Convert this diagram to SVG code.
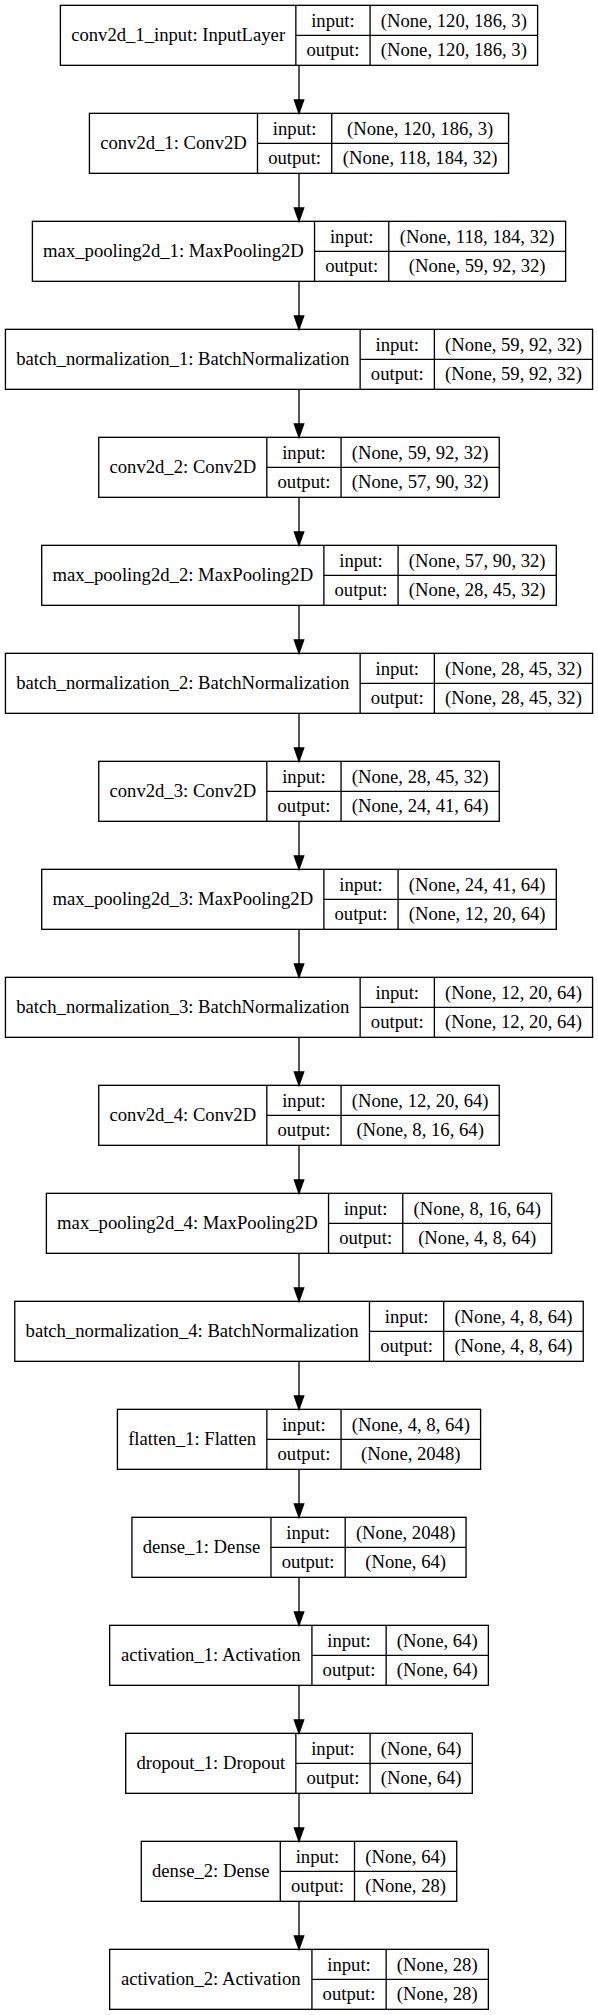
<svg xmlns="http://www.w3.org/2000/svg" width="598" height="2015" viewBox="0 0 598 2015">
<style>
  .bg { fill: #ffffff; }
  .n rect { fill: none; stroke: #000; stroke-width: 1.33; }
  .n line { stroke: #000; stroke-width: 1.33; }
  .n text { font-family: "Liberation Serif", "Times New Roman", serif; font-size: 18.67px; text-anchor: middle; fill: #000; }
  .e line { stroke: #000; stroke-width: 1.33; }
</style>
<defs>
  <marker id="ah" viewBox="0 0 13.33 9.33" refX="0" refY="4.665" markerWidth="13.33" markerHeight="9.33" markerUnits="userSpaceOnUse" orient="auto" overflow="visible">
    <path d="M0,0 L13.33,4.665 L0,9.33 Z" fill="#000" stroke="#000" stroke-width="1.33"/>
  </marker>
</defs>
<rect class="bg" x="0" y="0" width="598" height="2015"/>

<g id="edges" class="e">
  <line x1="299" y1="65.33" x2="299" y2="100" marker-end="url(#ah)"/>
  <line x1="299" y1="173.33" x2="299" y2="208" marker-end="url(#ah)"/>
  <line x1="299" y1="281.33" x2="299" y2="316" marker-end="url(#ah)"/>
  <line x1="299" y1="389.33" x2="299" y2="424" marker-end="url(#ah)"/>
  <line x1="299" y1="497.33" x2="299" y2="532" marker-end="url(#ah)"/>
  <line x1="299" y1="605.33" x2="299" y2="640" marker-end="url(#ah)"/>
  <line x1="299" y1="713.33" x2="299" y2="748" marker-end="url(#ah)"/>
  <line x1="299" y1="821.33" x2="299" y2="856" marker-end="url(#ah)"/>
  <line x1="299" y1="929.33" x2="299" y2="964" marker-end="url(#ah)"/>
  <line x1="299" y1="1037.33" x2="299" y2="1072" marker-end="url(#ah)"/>
  <line x1="299" y1="1145.33" x2="299" y2="1180" marker-end="url(#ah)"/>
  <line x1="299" y1="1253.33" x2="299" y2="1288" marker-end="url(#ah)"/>
  <line x1="299" y1="1361.33" x2="299" y2="1396" marker-end="url(#ah)"/>
  <line x1="299" y1="1469.33" x2="299" y2="1504" marker-end="url(#ah)"/>
  <line x1="299" y1="1577.33" x2="299" y2="1612" marker-end="url(#ah)"/>
  <line x1="299" y1="1685.33" x2="299" y2="1720" marker-end="url(#ah)"/>
  <line x1="299" y1="1793.33" x2="299" y2="1828" marker-end="url(#ah)"/>
  <line x1="299" y1="1901.33" x2="299" y2="1936" marker-end="url(#ah)"/>
</g>

<g id="conv2d_1_input" class="n" transform="translate(0,5.33)">
  <rect x="60.39" y="0" width="477.22" height="60"/>
  <line x1="295.85" y1="0" x2="295.85" y2="60"/><line x1="370.08" y1="0" x2="370.08" y2="60"/><line x1="295.85" y1="30" x2="537.61" y2="30"/>
  <text x="178.12" y="35.5">conv2d_1_input: InputLayer</text>
  <text x="332.97" y="21.5">input:</text><text x="332.97" y="50.5">output:</text>
  <text x="453.85" y="21.5">(None, 120, 186, 3)</text><text x="453.85" y="50.5">(None, 120, 186, 3)</text>
</g>

<g id="conv2d_1" class="n" transform="translate(0,113.33)">
  <rect x="89.42" y="0" width="419.16" height="60"/>
  <line x1="257.49" y1="0" x2="257.49" y2="60"/><line x1="331.72" y1="0" x2="331.72" y2="60"/><line x1="257.49" y1="30" x2="508.58" y2="30"/>
  <text x="173.46" y="35.5">conv2d_1: Conv2D</text>
  <text x="294.61" y="21.5">input:</text><text x="294.61" y="50.5">output:</text>
  <text x="420.15" y="21.5">(None, 120, 186, 3)</text><text x="420.15" y="50.5">(None, 118, 184, 32)</text>
</g>

<g id="max_pooling2d_1" class="n" transform="translate(0,221.33)">
  <rect x="32.38" y="0" width="533.25" height="60"/>
  <line x1="314.54" y1="0" x2="314.54" y2="60"/><line x1="388.77" y1="0" x2="388.77" y2="60"/><line x1="314.54" y1="30" x2="565.63" y2="30"/>
  <text x="173.46" y="35.5">max_pooling2d_1: MaxPooling2D</text>
  <text x="351.65" y="21.5">input:</text><text x="351.65" y="50.5">output:</text>
  <text x="477.2" y="21.5">(None, 118, 184, 32)</text><text x="477.2" y="50.5">(None, 59, 92, 32)</text>
</g>

<g id="batch_normalization_1" class="n" transform="translate(0,329.33)">
  <rect x="5.44" y="0" width="587.13" height="60"/>
  <line x1="360.14" y1="0" x2="360.14" y2="60"/><line x1="434.37" y1="0" x2="434.37" y2="60"/><line x1="360.14" y1="30" x2="592.57" y2="30"/>
  <text x="182.79" y="35.5">batch_normalization_1: BatchNormalization</text>
  <text x="397.25" y="21.5">input:</text><text x="397.25" y="50.5">output:</text>
  <text x="513.47" y="21.5">(None, 59, 92, 32)</text><text x="513.47" y="50.5">(None, 59, 92, 32)</text>
</g>

<g id="conv2d_2" class="n" transform="translate(0,437.33)">
  <rect x="98.75" y="0" width="400.5" height="60"/>
  <line x1="266.82" y1="0" x2="266.82" y2="60"/><line x1="341.05" y1="0" x2="341.05" y2="60"/><line x1="266.82" y1="30" x2="499.25" y2="30"/>
  <text x="182.79" y="35.5">conv2d_2: Conv2D</text>
  <text x="303.94" y="21.5">input:</text><text x="303.94" y="50.5">output:</text>
  <text x="420.15" y="21.5">(None, 59, 92, 32)</text><text x="420.15" y="50.5">(None, 57, 90, 32)</text>
</g>

<g id="max_pooling2d_2" class="n" transform="translate(0,545.33)">
  <rect x="41.71" y="0" width="514.59" height="60"/>
  <line x1="323.87" y1="0" x2="323.87" y2="60"/><line x1="398.1" y1="0" x2="398.1" y2="60"/><line x1="323.87" y1="30" x2="556.3" y2="30"/>
  <text x="182.79" y="35.5">max_pooling2d_2: MaxPooling2D</text>
  <text x="360.98" y="21.5">input:</text><text x="360.98" y="50.5">output:</text>
  <text x="477.2" y="21.5">(None, 57, 90, 32)</text><text x="477.2" y="50.5">(None, 28, 45, 32)</text>
</g>

<g id="batch_normalization_2" class="n" transform="translate(0,653.33)">
  <rect x="5.44" y="0" width="587.13" height="60"/>
  <line x1="360.14" y1="0" x2="360.14" y2="60"/><line x1="434.37" y1="0" x2="434.37" y2="60"/><line x1="360.14" y1="30" x2="592.57" y2="30"/>
  <text x="182.79" y="35.5">batch_normalization_2: BatchNormalization</text>
  <text x="397.25" y="21.5">input:</text><text x="397.25" y="50.5">output:</text>
  <text x="513.47" y="21.5">(None, 28, 45, 32)</text><text x="513.47" y="50.5">(None, 28, 45, 32)</text>
</g>

<g id="conv2d_3" class="n" transform="translate(0,761.33)">
  <rect x="98.75" y="0" width="400.5" height="60"/>
  <line x1="266.82" y1="0" x2="266.82" y2="60"/><line x1="341.05" y1="0" x2="341.05" y2="60"/><line x1="266.82" y1="30" x2="499.25" y2="30"/>
  <text x="182.79" y="35.5">conv2d_3: Conv2D</text>
  <text x="303.94" y="21.5">input:</text><text x="303.94" y="50.5">output:</text>
  <text x="420.15" y="21.5">(None, 28, 45, 32)</text><text x="420.15" y="50.5">(None, 24, 41, 64)</text>
</g>

<g id="max_pooling2d_3" class="n" transform="translate(0,869.33)">
  <rect x="41.71" y="0" width="514.59" height="60"/>
  <line x1="323.87" y1="0" x2="323.87" y2="60"/><line x1="398.1" y1="0" x2="398.1" y2="60"/><line x1="323.87" y1="30" x2="556.3" y2="30"/>
  <text x="182.79" y="35.5">max_pooling2d_3: MaxPooling2D</text>
  <text x="360.98" y="21.5">input:</text><text x="360.98" y="50.5">output:</text>
  <text x="477.2" y="21.5">(None, 24, 41, 64)</text><text x="477.2" y="50.5">(None, 12, 20, 64)</text>
</g>

<g id="batch_normalization_3" class="n" transform="translate(0,977.33)">
  <rect x="5.44" y="0" width="587.13" height="60"/>
  <line x1="360.14" y1="0" x2="360.14" y2="60"/><line x1="434.37" y1="0" x2="434.37" y2="60"/><line x1="360.14" y1="30" x2="592.57" y2="30"/>
  <text x="182.79" y="35.5">batch_normalization_3: BatchNormalization</text>
  <text x="397.25" y="21.5">input:</text><text x="397.25" y="50.5">output:</text>
  <text x="513.47" y="21.5">(None, 12, 20, 64)</text><text x="513.47" y="50.5">(None, 12, 20, 64)</text>
</g>

<g id="conv2d_4" class="n" transform="translate(0,1085.33)">
  <rect x="98.75" y="0" width="400.5" height="60"/>
  <line x1="266.82" y1="0" x2="266.82" y2="60"/><line x1="341.05" y1="0" x2="341.05" y2="60"/><line x1="266.82" y1="30" x2="499.25" y2="30"/>
  <text x="182.79" y="35.5">conv2d_4: Conv2D</text>
  <text x="303.94" y="21.5">input:</text><text x="303.94" y="50.5">output:</text>
  <text x="420.15" y="21.5">(None, 12, 20, 64)</text><text x="420.15" y="50.5">(None, 8, 16, 64)</text>
</g>

<g id="max_pooling2d_4" class="n" transform="translate(0,1193.33)">
  <rect x="46.38" y="0" width="505.25" height="60"/>
  <line x1="328.54" y1="0" x2="328.54" y2="60"/><line x1="402.77" y1="0" x2="402.77" y2="60"/><line x1="328.54" y1="30" x2="551.63" y2="30"/>
  <text x="187.46" y="35.5">max_pooling2d_4: MaxPooling2D</text>
  <text x="365.65" y="21.5">input:</text><text x="365.65" y="50.5">output:</text>
  <text x="477.2" y="21.5">(None, 8, 16, 64)</text><text x="477.2" y="50.5">(None, 4, 8, 64)</text>
</g>

<g id="batch_normalization_4" class="n" transform="translate(0,1301.33)">
  <rect x="14.77" y="0" width="568.46" height="60"/>
  <line x1="369.47" y1="0" x2="369.47" y2="60"/><line x1="443.7" y1="0" x2="443.7" y2="60"/><line x1="369.47" y1="30" x2="583.23" y2="30"/>
  <text x="192.12" y="35.5">batch_normalization_4: BatchNormalization</text>
  <text x="406.59" y="21.5">input:</text><text x="406.59" y="50.5">output:</text>
  <text x="513.47" y="21.5">(None, 4, 8, 64)</text><text x="513.47" y="50.5">(None, 4, 8, 64)</text>
</g>

<g id="flatten_1" class="n" transform="translate(0,1409.33)">
  <rect x="117.42" y="0" width="363.17" height="60"/>
  <line x1="266.83" y1="0" x2="266.83" y2="60"/><line x1="341.06" y1="0" x2="341.06" y2="60"/><line x1="266.83" y1="30" x2="480.59" y2="30"/>
  <text x="192.12" y="35.5">flatten_1: Flatten</text>
  <text x="303.94" y="21.5">input:</text><text x="303.94" y="50.5">output:</text>
  <text x="410.82" y="21.5">(None, 4, 8, 64)</text><text x="410.82" y="50.5">(None, 2048)</text>
</g>

<g id="dense_1" class="n" transform="translate(0,1517.33)">
  <rect x="131.95" y="0" width="334.1" height="60"/>
  <line x1="270.96" y1="0" x2="270.96" y2="60"/><line x1="345.19" y1="0" x2="345.19" y2="60"/><line x1="270.96" y1="30" x2="466.05" y2="30"/>
  <text x="201.46" y="35.5">dense_1: Dense</text>
  <text x="308.08" y="21.5">input:</text><text x="308.08" y="50.5">output:</text>
  <text x="405.62" y="21.5">(None, 2048)</text><text x="405.62" y="50.5">(None, 64)</text>
</g>

<g id="activation_1" class="n" transform="translate(0,1625.33)">
  <rect x="109.64" y="0" width="378.72" height="60"/>
  <line x1="311.93" y1="0" x2="311.93" y2="60"/><line x1="386.16" y1="0" x2="386.16" y2="60"/><line x1="311.93" y1="30" x2="488.36" y2="30"/>
  <text x="210.79" y="35.5">activation_1: Activation</text>
  <text x="349.05" y="21.5">input:</text><text x="349.05" y="50.5">output:</text>
  <text x="437.26" y="21.5">(None, 64)</text><text x="437.26" y="50.5">(None, 64)</text>
</g>

<g id="dropout_1" class="n" transform="translate(0,1733.33)">
  <rect x="125.72" y="0" width="346.57" height="60"/>
  <line x1="295.86" y1="0" x2="295.86" y2="60"/><line x1="370.09" y1="0" x2="370.09" y2="60"/><line x1="295.86" y1="30" x2="472.29" y2="30"/>
  <text x="210.79" y="35.5">dropout_1: Dropout</text>
  <text x="332.97" y="21.5">input:</text><text x="332.97" y="50.5">output:</text>
  <text x="421.19" y="21.5">(None, 64)</text><text x="421.19" y="50.5">(None, 64)</text>
</g>

<g id="dense_2" class="n" transform="translate(0,1841.33)">
  <rect x="141.28" y="0" width="315.44" height="60"/>
  <line x1="280.29" y1="0" x2="280.29" y2="60"/><line x1="354.52" y1="0" x2="354.52" y2="60"/><line x1="280.29" y1="30" x2="456.72" y2="30"/>
  <text x="210.79" y="35.5">dense_2: Dense</text>
  <text x="317.41" y="21.5">input:</text><text x="317.41" y="50.5">output:</text>
  <text x="405.62" y="21.5">(None, 64)</text><text x="405.62" y="50.5">(None, 28)</text>
</g>

<g id="activation_2" class="n" transform="translate(0,1949.33)">
  <rect x="109.64" y="0" width="378.72" height="60"/>
  <line x1="311.93" y1="0" x2="311.93" y2="60"/><line x1="386.16" y1="0" x2="386.16" y2="60"/><line x1="311.93" y1="30" x2="488.36" y2="30"/>
  <text x="210.79" y="35.5">activation_2: Activation</text>
  <text x="349.05" y="21.5">input:</text><text x="349.05" y="50.5">output:</text>
  <text x="437.26" y="21.5">(None, 28)</text><text x="437.26" y="50.5">(None, 28)</text>
</g>
</svg>
